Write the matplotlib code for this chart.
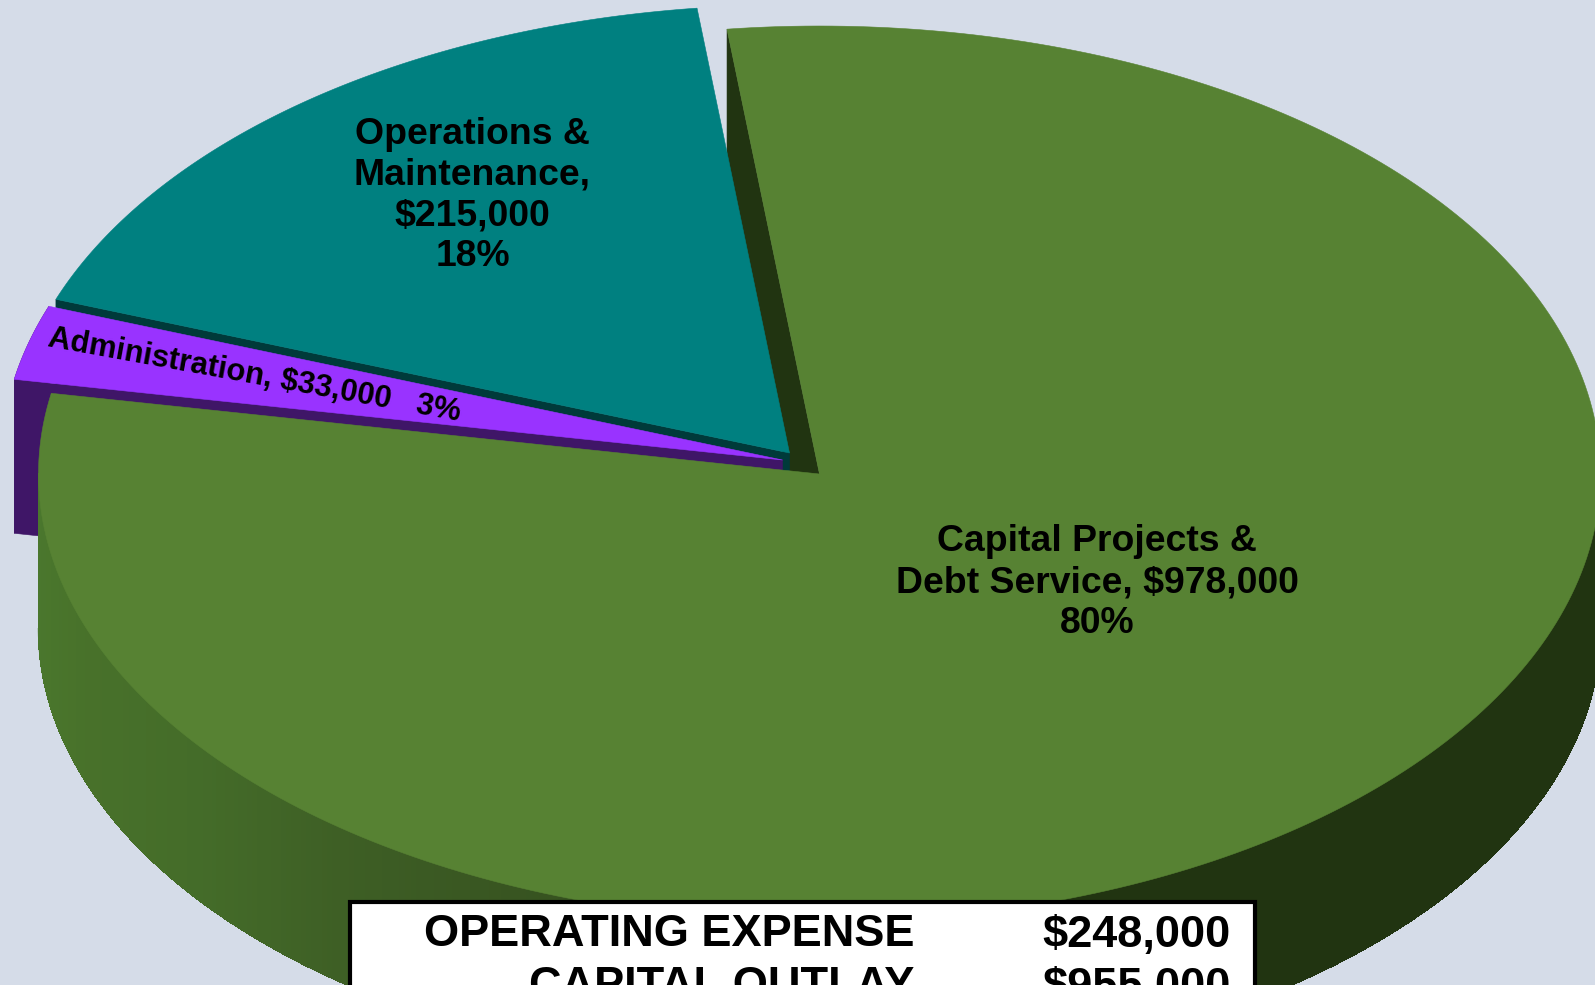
import numpy as np
import matplotlib
matplotlib.use("Agg")
import matplotlib.pyplot as plt
from matplotlib.patches import Polygon, Rectangle
from matplotlib.collections import LineCollection
from matplotlib.colors import to_rgb

plt.rcParams['font.family'] = ['Liberation Sans', 'DejaVu Sans']

# ---- data ----
categories = ["Capital Projects &\nDebt Service, $978,000\n80%",
              "Administration, $33,000   3%",
              "Operations &\nMaintenance,\n$215,000\n18%"]
values = [978000, 33000, 215000]
table_names = ["OPERATING EXPENSE", "CAPITAL OUTLAY"]
table_amounts = ["$248,000", "$955,000"]

# ---- style ----
BG = "#d5dce8"
top_colors = ["#578233", "#9933ff", "#008080"]
wall_colors = ["#213411", "#3f1667", "#003a3a"]
centers = [(819.5, 474), (782.5, 460), (789.5, 453)]
A, B, DEPTH = 781, 448, 154
START = 96.8

fig = plt.figure(figsize=(15.95, 9.85), dpi=100, facecolor=BG)
ax = fig.add_axes([0, 0, 1, 1])
ax.set_xlim(0, 1595)
ax.set_ylim(985, 0)
ax.axis("off")

sweeps = np.array(values) / sum(values) * 360
ends = START - np.cumsum(sweeps)
starts = ends + sweeps


def arc(c, a0, a1, n=300, dy=0):
    t = np.radians(np.linspace(a0, a1, n))
    return np.column_stack([c[0] + A * np.cos(t), c[1] - B * np.sin(t) + dy])


def face(i, z):
    c = centers[i]
    pts = np.vstack([[c], arc(c, starts[i], ends[i])])
    ax.add_patch(Polygon(pts, closed=True, fc=top_colors[i], ec=top_colors[i], lw=0.4, zorder=z))


def cut_wall(i, angle, z):
    c = centers[i]
    e = arc(c, angle, angle, 1)[0]
    pts = [e, c, (c[0], c[1] + DEPTH), (e[0], e[1] + DEPTH)]
    ax.add_patch(Polygon(pts, closed=True, fc=wall_colors[i], ec=wall_colors[i], lw=0.4, zorder=z))


def side_colour(x):
    stops_x = [38, 90, 200, 340, 600, 819, 820, 1600]
    stops_c = ["#4a772d", "#48712a", "#446c29", "#3e5f25", "#35501f", "#2c4518", "#213411", "#213411"]
    rgb = np.array([to_rgb(s) for s in stops_c])
    return tuple(np.interp(x, stops_x, rgb[:, k]) for k in range(3))


# green cut wall, behind the teal slice
cut_wall(0, starts[0], 1)

# teal slice: its lower cut face shows above the purple slice
cut_wall(2, starts[2], 2)
face(2, 3)

# purple slice, with its outer side and lower cut face
cut_wall(1, starts[1], 4)
c1 = centers[1]
rim = arc(c1, starts[1], ends[1], 30)
ax.add_patch(Polygon(np.vstack([rim, (rim + [0, DEPTH])[::-1]]), closed=True,
                     fc=wall_colors[1], ec=wall_colors[1], lw=0.4, zorder=4))
face(1, 5)

# green outer side, shaded by position
c0 = centers[0]
rim_angles = np.linspace(180, 360, 361)
edge_segs, edge_cols = [], []
for a0, a1 in zip(rim_angles[:-1], rim_angles[1:]):
    p = arc(c0, a0, a1, 2)
    col = side_colour(p[:, 0].mean())
    ax.add_patch(Polygon(np.vstack([p, (p + [0, DEPTH])[::-1]]), closed=True,
                         fc=col, ec=col, lw=0.6, antialiased=False, zorder=6))
    edge_segs.append(p + [0, DEPTH])
    edge_cols.append(col)
ax.add_collection(LineCollection(edge_segs, colors=edge_cols, linewidths=1.0, zorder=6))
face(0, 7)

# slice labels
lab = dict(fontweight="bold", color="black", ha="center", va="center",
           zorder=8, linespacing=1.21)
ax.text(1097, 582.5, categories[0], fontsize=26.9, **lab)
ax.text(472.5, 195.5, categories[2], fontsize=26.9, **lab)
ax.text(254, 376, categories[1], fontsize=22.3, rotation=-10.3, rotation_mode="anchor",
        fontweight="bold", color="black", ha="center", va="center", zorder=8)

# summary table, running off the lower edge
ax.add_patch(Rectangle((350, 902), 905, 120, fc="white", ec="black", lw=3, zorder=9))
rows_y = [935, 987]
for name, amount, y in zip(table_names, table_amounts, rows_y):
    ax.text(914, y, name, fontsize=32.5, fontweight="bold", ha="right", va="center", zorder=10, color="black")
    ax.text(1231, y, amount, fontsize=32.5, fontweight="bold", ha="right", va="center", zorder=10, color="black")

fig.savefig("out.png", dpi=100, facecolor=BG)
